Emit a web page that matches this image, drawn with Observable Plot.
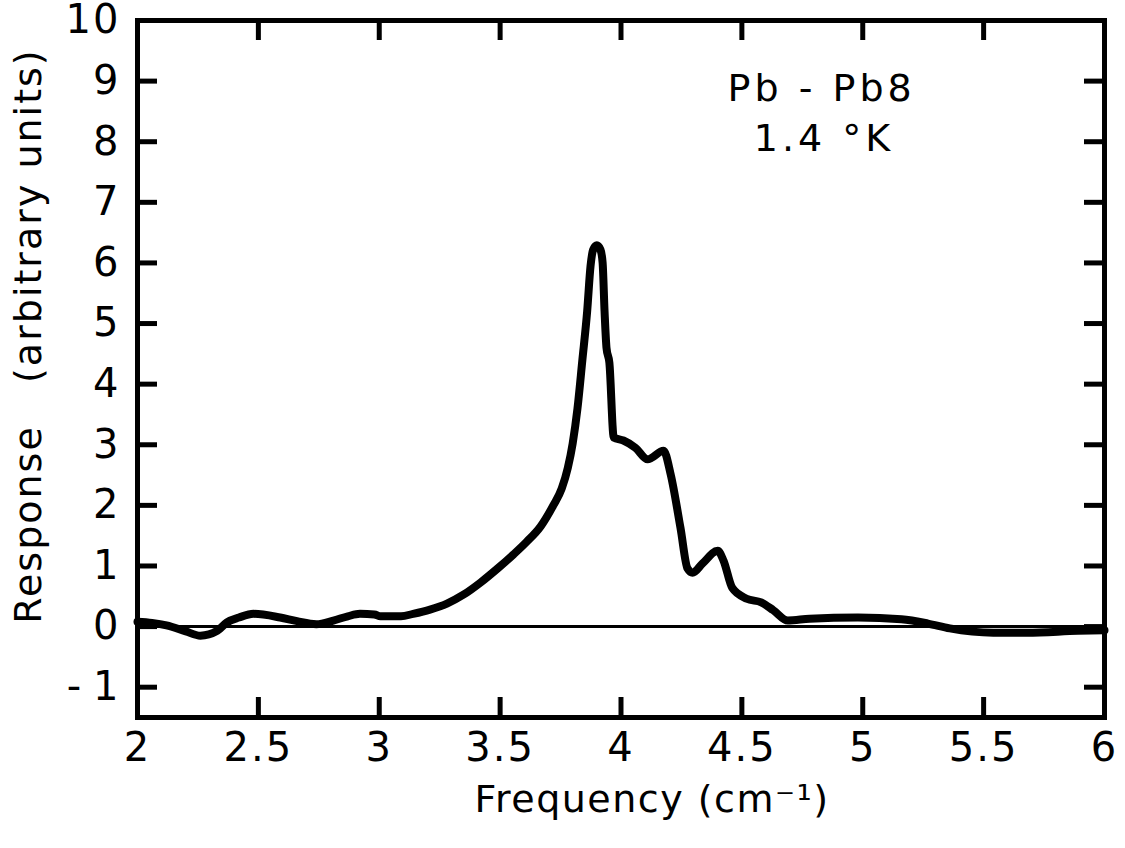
<!DOCTYPE html>
<html><head><meta charset="utf-8">
<script src="https://cdn.jsdelivr.net/npm/d3@7"></script>
<script src="https://cdn.jsdelivr.net/npm/@observablehq/plot@0.6"></script>
<style>
body{margin:0;background:#fff}
#chart svg{font-family:"DejaVu Sans",sans-serif}
.sp1 text{letter-spacing:1.5px}
.sp2 text{letter-spacing:2px}
.sp4 text{letter-spacing:4px}
</style>
</head><body><div id="chart"></div>
<script>
// Frequency (cm^-1) and response (arbitrary units)
const freq = [2.00, 2.06, 2.12, 2.20, 2.26, 2.33, 2.37, 2.42, 2.48, 2.59, 2.66, 2.74, 2.81, 2.87, 2.92, 2.98, 3.005, 3.09, 3.14, 3.21, 3.28, 3.35, 3.42, 3.49, 3.555, 3.61, 3.667, 3.72, 3.755, 3.78, 3.80, 3.82, 3.84, 3.86, 3.874, 3.885, 3.90, 3.915, 3.924, 3.932, 3.94, 3.952, 3.97, 4.01, 4.06, 4.11, 4.176, 4.205, 4.246, 4.275, 4.296, 4.337, 4.40, 4.424, 4.46, 4.52, 4.58, 4.63, 4.69, 4.78, 4.98, 5.16, 5.27, 5.36, 5.54, 5.68, 5.89, 6.00];
const response = [0.08, 0.06, 0.02, -0.08, -0.15, -0.07, 0.07, 0.15, 0.21, 0.15, 0.09, 0.04, 0.10, 0.17, 0.21, 0.20, 0.17, 0.17, 0.21, 0.28, 0.38, 0.53, 0.73, 0.96, 1.19, 1.40, 1.65, 2.00, 2.28, 2.62, 3.02, 3.60, 4.39, 5.20, 5.95, 6.22, 6.29, 6.22, 6.00, 5.20, 4.60, 4.35, 3.12, 3.07, 2.95, 2.76, 2.90, 2.52, 1.63, 0.96, 0.89, 1.04, 1.25, 1.09, 0.64, 0.46, 0.40, 0.27, 0.10, 0.13, 0.15, 0.12, 0.05, -0.03, -0.10, -0.10, -0.07, -0.06];

const xTicks = [2, 2.5, 3, 3.5, 4, 4.5, 5, 5.5, 6];
const yTicks = [-1, 0, 1, 2, 3, 4, 5, 6, 7, 8, 9, 10];
const xTitle = "Frequency (cm⁻¹)";
const yTitle = "Response   (arbitrary units)";
const annText = ["Pb - Pb8", "1.4 °K"];
const annX = [4.83, 4.84];
const annY = [8.87, 8.05];

const data = freq.map((f, i) => ({f, r: response[i]}));
const ann = annText.map((t, i) => ({t, x: annX[i], y: annY[i]}));

const plot = Plot.plot({
  width: 1125,
  height: 848,
  marginLeft: 137,
  marginRight: 21,
  marginTop: 20,
  marginBottom: 131,
  style: {fontFamily: "DejaVu Sans, sans-serif", color: "#000", background: "#fff"},
  x: {domain: [2, 6]},
  y: {domain: [-1.5, 10]},
  marks: [
    Plot.ruleY([0], {stroke: "#000", strokeWidth: 3}),
    Plot.line(data, {x: "f", y: "r", stroke: "#000", strokeWidth: 8, curve: "monotone-x", strokeLinejoin: "round", strokeLinecap: "round"}),
    Plot.tickX(xTicks.slice(1, -1), {x: d => d, insetTop: 677, strokeWidth: 5}),
    Plot.tickX(xTicks.slice(1, -1), {x: d => d, insetBottom: 677, strokeWidth: 5}),
    Plot.tickY(yTicks.slice(0, -1), {y: d => d, insetRight: 947, strokeWidth: 5}),
    Plot.tickY(yTicks.slice(0, -1), {y: d => d, insetLeft: 947, strokeWidth: 5}),
    Plot.frame({stroke: "#000", strokeWidth: 5}),
    Plot.axisX(xTicks, {anchor: "bottom", tickSize: 0, tickPadding: 15, fontSize: 40, label: null, className: "sp2", tickFormat: d => String(d)}),
    Plot.axisY(yTicks, {anchor: "left", tickSize: 0, tickPadding: 17, fontSize: 40, label: null, className: "sp2", tickFormat: d => d < 0 ? "-\u2009" + Math.abs(d) : String(d)}),
    Plot.text([xTitle], {frameAnchor: "bottom", textAnchor: "middle", lineAnchor: "middle", dx: 31, dy: 82, fontSize: 38, text: d => d, className: "sp1"}),
    Plot.text([yTitle], {frameAnchor: "left", textAnchor: "middle", lineAnchor: "middle", dx: -109, dy: -33, rotate: -90, fontSize: 38, text: d => d, className: "sp2"}),
    Plot.text(ann, {x: "x", y: "y", text: "t", fontSize: 38, lineAnchor: "middle", className: "sp4"})
  ]
});
document.getElementById("chart").appendChild(plot);
</script>
</body></html>
